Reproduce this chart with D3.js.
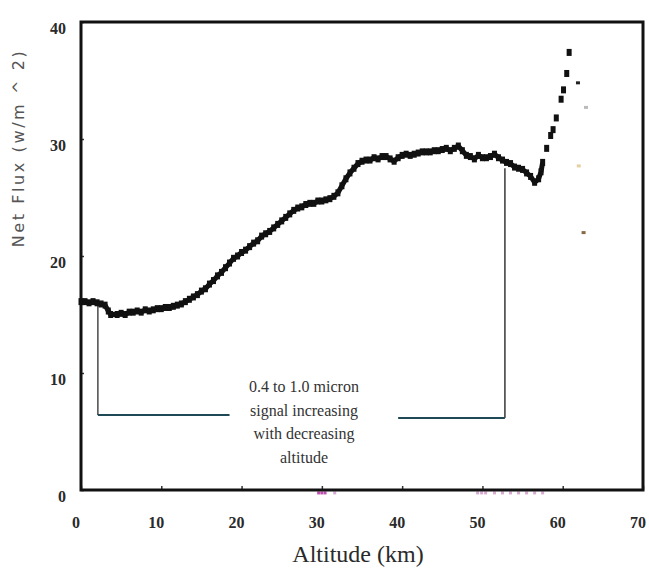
<!DOCTYPE html>
<html>
<head>
<meta charset="utf-8">
<script src="https://cdn.jsdelivr.net/npm/d3@7"></script>
<style>
  body { margin: 0; background: #fff; }
  .tick text { font-family: "Liberation Serif", "Times New Roman", serif; font-weight: bold; font-size: 16px; fill: #2a2a2a; }
  .note { font-family: "Liberation Serif", "Times New Roman", serif; font-size: 16px; fill: #333; }
  .xtitle { font-family: "Liberation Serif", "Times New Roman", serif; font-size: 24px; fill: #2a2a2a; }
  .ytitle { font-family: "DejaVu Sans", sans-serif; font-size: 16px; letter-spacing: 2.6px; fill: #555; }
</style>
</head>
<body>
<div id="chart"></div>
<script>
// altitude (km) / net flux (w/m^2)
var altitude = [0,0.5,1,1.5,2,2.5,3,3.4,3.7,4.5,5,5.5,6,6.5,7,7.5,8,8.5,9,9.5,10,10.5,11,11.5,12,12.5,13,13.5,14,14.5,
  15,15.5,16,16.5,17,17.5,18,18.5,19,19.5,20,20.5,21,21.5,22,22.5,23,23.5,24,24.5,25,25.5,26,26.5,27,27.5,28,28.5,29,29.5,
  30,30.5,31,31.5,32,32.5,33,33.5,34,34.5,35,35.5,36,36.5,37,37.5,38,38.5,39,39.5,40,40.5,41,41.5,42,42.5,43,43.5,44,44.5,
  45,45.5,46,46.5,47,47.5,48,48.5,49,49.5,50,50.5,51,51.5,52,52.5,53,53.5,54,54.5,55,55.5,56,56.5,57,57.3,57.5,58,58.5,58.8,
  59.2,59.8,60.1,60.5,60.8];
var netFlux = [16.1,16.1,16.0,16.1,16.0,15.9,15.8,15.3,15.0,15.0,15.1,15.0,15.2,15.2,15.3,15.2,15.4,15.3,15.4,15.5,15.5,15.6,15.6,15.7,15.8,15.9,16.1,16.3,16.5,16.7,
  17.0,17.2,17.6,17.9,18.3,18.6,19.0,19.4,19.8,20.0,20.3,20.5,20.8,21.1,21.3,21.7,21.9,22.1,22.4,22.7,23.0,23.3,23.6,23.9,24.1,24.2,24.4,24.5,24.5,24.7,
  24.7,24.8,24.9,25.1,25.4,26.0,26.6,27.1,27.5,27.9,28.1,28.2,28.2,28.4,28.3,28.5,28.5,28.3,28.1,28.4,28.6,28.7,28.6,28.7,28.8,28.9,28.9,28.9,29.0,29.0,
  29.1,29.2,29.0,29.2,29.4,29.0,28.6,28.5,28.3,28.6,28.4,28.4,28.5,28.7,28.4,28.2,28.0,27.9,27.6,27.5,27.4,27.1,26.8,26.3,26.6,27.2,28.0,29.2,30.3,30.8,
  31.8,33.4,34.2,35.6,37.4];

// stray points right of the curve
var strayAlt = [61.9, 62.9, 62.0, 62.6];
var strayFlux = [34.8, 32.7, 27.7, 22.0];
var strayColor = ["#222", "#bbb", "#e6cfa0", "#8a6a45"];

// faint marks sitting on the zero line
var baseAlt = [29.6, 30.0, 30.4, 31.6, 49.4, 49.9, 50.4, 51.5, 52.5, 53.5, 54.5, 55.5, 56.5, 57.5];

var xTicks = [0, 10, 20, 30, 40, 50, 60, 70];
var yTicks = [0, 10, 20, 30, 40];

var noteLines = ["0.4 to 1.0 micron", "signal increasing", "with decreasing", "altitude"];

var width = 649, height = 573;

var svg = d3.select("#chart").append("svg")
  .attr("width", width)
  .attr("height", height);

var x = d3.scaleLinear().domain([0, 70]).range([81, 643]);
var y = d3.scaleLinear().domain([0, 40]).range([490, 22]);

var pts = altitude.map((a, i) => ({alt: a, flux: netFlux[i]}));

// brackets of the annotation
var bracket = svg.append("g").attr("fill", "none");
bracket.append("line")
  .attr("x1", x(2.1)).attr("x2", x(2.1))
  .attr("y1", y(15.8)).attr("y2", y(6.4))
  .attr("stroke", "#555").attr("stroke-width", 1.6);
bracket.append("line")
  .attr("x1", x(2.1)).attr("x2", x(18.5))
  .attr("y1", y(6.4)).attr("y2", y(6.4))
  .attr("stroke", "#1f4a55").attr("stroke-width", 2);
bracket.append("line")
  .attr("x1", x(39.5)).attr("x2", x(52.8))
  .attr("y1", y(6.15)).attr("y2", y(6.15))
  .attr("stroke", "#1f4a55").attr("stroke-width", 2);
bracket.append("line")
  .attr("x1", x(52.8)).attr("x2", x(52.8))
  .attr("y1", y(6.15)).attr("y2", y(27.5))
  .attr("stroke", "#444").attr("stroke-width", 1.6);

svg.append("g").selectAll("text")
  .data(noteLines)
  .enter()
  .append("text")
  .attr("class", "note")
  .attr("x", 304)
  .attr("y", (d, i) => 392 + i * 23.5)
  .attr("text-anchor", "middle")
  .text(d => d);

// faint base marks
svg.append("g").selectAll("rect")
  .data(baseAlt)
  .enter()
  .append("rect")
  .attr("x", d => x(d) - 1.5)
  .attr("y", y(-0.25) - 1.5)
  .attr("width", 3)
  .attr("height", 3)
  .attr("fill", (d, i) => i < 3 ? "#c050b0" : "#d8a8d0");

// the flux curve: continuous part as a thick line, plus dots
var line = d3.line()
  .x(d => x(d.alt))
  .y(d => y(d.flux));

svg.append("path")
  .datum(pts.filter(d => d.alt <= 57.5))
  .attr("d", line)
  .attr("fill", "none")
  .attr("stroke", "#111")
  .attr("stroke-width", 5)
  .attr("stroke-linejoin", "round");

svg.append("g").selectAll("rect")
  .data(pts)
  .enter()
  .append("rect")
  .attr("x", d => x(d.alt) - 2.5)
  .attr("y", d => y(d.flux) - 3.5)
  .attr("width", 5)
  .attr("height", 7)
  .attr("fill", "#111");

svg.append("g").selectAll("rect")
  .data(strayAlt)
  .enter()
  .append("rect")
  .attr("x", d => x(d) - 2)
  .attr("y", (d, i) => y(strayFlux[i]) - 1.5)
  .attr("width", 4)
  .attr("height", 3)
  .attr("fill", (d, i) => strayColor[i]);

// axes
var xAxis = d3.axisBottom(x)
  .tickValues(xTicks)
  .tickSize(-4)
  .tickPadding(0)
  .tickFormat(d3.format("d"));

svg.append("g")
  .attr("transform", `translate(0, ${y(0)})`)
  .call(xAxis)
  .call(g => g.select(".domain").remove())
  .call(g => g.selectAll(".tick line").attr("stroke", "#333").attr("stroke-width", 1.5))
  .call(g => g.selectAll(".tick text").attr("dx", -5.5).attr("y", 38).attr("dy", 0));

var yAxis = d3.axisLeft(y)
  .tickValues(yTicks)
  .tickSize(-3)
  .tickFormat(d3.format("d"));

svg.append("g")
  .attr("transform", `translate(${x(0)}, 0)`)
  .call(yAxis)
  .call(g => g.select(".domain").remove())
  .call(g => g.selectAll(".tick line").attr("stroke", "#333").attr("stroke-width", 1.5))
  .call(g => g.selectAll(".tick text").attr("x", -15).attr("dy", 0).attr("y", 11));

// frame
svg.append("rect")
  .attr("x", x(0))
  .attr("y", y(40))
  .attr("width", x(70) - x(0))
  .attr("height", y(0) - y(40))
  .attr("fill", "none")
  .attr("stroke", "#111")
  .attr("stroke-width", 3);

svg.append("text")
  .attr("class", "ytitle")
  .attr("transform", "translate(24, 148) rotate(-90)")
  .attr("text-anchor", "middle")
  .text("Net Flux (w/m ^ 2)");

svg.append("text")
  .attr("class", "xtitle")
  .attr("x", 358)
  .attr("y", 562)
  .attr("text-anchor", "middle")
  .text("Altitude (km)");
</script>
</body>
</html>
